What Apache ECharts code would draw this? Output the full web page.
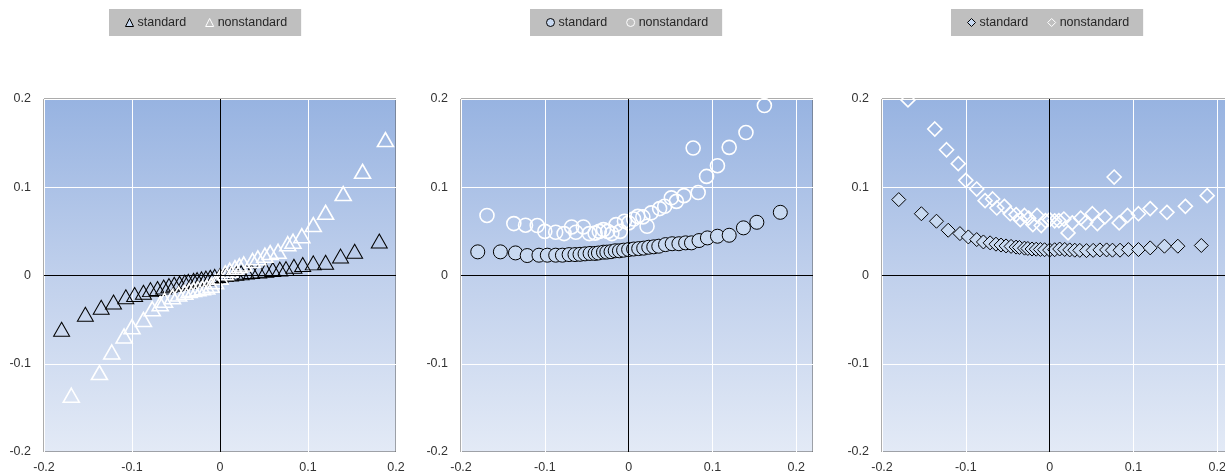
<!DOCTYPE html>
<html>
<head>
<meta charset="utf-8">
<script src="https://cdn.jsdelivr.net/npm/echarts@6/dist/echarts.min.js"></script>
<style>
html,body{margin:0;padding:0;background:#fff;overflow:hidden;}
#chart{width:1240px;height:473px;}
</style>
</head>
<body>
<div id="chart"></div>
<script>
// ---- data ----
const seriesNames = ['standard', 'nonstandard'];
const axisTicks = [-0.2, -0.1, 0, 0.1, 0.2];

// x values (returns) shared by all panels
const xStd = [-0.180, -0.153, -0.135, -0.121, -0.107, -0.097, -0.087, -0.079, -0.071, -0.064,
  -0.058, -0.052, -0.046, -0.040, -0.036, -0.030, -0.026, -0.021, -0.016, -0.011,
  -0.006, 0.000, 0.006, 0.012, 0.018, 0.024, 0.030, 0.036, 0.044, 0.052,
  0.060, 0.068, 0.075, 0.084, 0.094, 0.106, 0.120, 0.137, 0.153, 0.181];
const xNon = [-0.169, -0.137, -0.123, -0.109, -0.100, -0.087, -0.077, -0.068, -0.063, -0.054,
  -0.047, -0.040, -0.035, -0.030, -0.025, -0.020, -0.015, -0.010, -0.005, 0.000,
  0.006, 0.011, 0.017, 0.022, 0.027, 0.037, 0.043, 0.051, 0.057, 0.066,
  0.077, 0.083, 0.093, 0.106, 0.120, 0.140, 0.162, 0.188];

// panel 1 (triangles)
const p1Std = [-0.061, -0.044, -0.036, -0.030, -0.024, -0.0215, -0.019, -0.016, -0.0147, -0.013,
  -0.0115, -0.010, -0.0088, -0.0075, -0.0067, -0.0055, -0.0047, -0.0038, -0.003, -0.002,
  -0.001, 0.000, 0.001, 0.0018, 0.0025, 0.003, 0.0038, 0.0045, 0.0052, 0.006,
  0.0068, 0.0072, 0.0078, 0.0105, 0.0124, 0.0143, 0.015, 0.022, 0.0275, 0.039];
const p1Non = [-0.1357, -0.110, -0.0867, -0.0686, -0.058, -0.0498, -0.0377, -0.032, -0.028, -0.024,
  -0.021, -0.019, -0.017, -0.016, -0.015, -0.014, -0.013, -0.011, -0.007, -0.002,
  0.003, 0.006, 0.009, 0.011, 0.013, 0.017, 0.020, 0.023, 0.026, 0.0275,
  0.036, 0.0388, 0.045, 0.0577, 0.0716, 0.0928, 0.118, 0.154];

// panel 2 (circles)
const p2Std = [0.0268, 0.0268, 0.0256, 0.0226, 0.023, 0.023, 0.023, 0.023, 0.0237, 0.0237,
  0.024, 0.0245, 0.025, 0.025, 0.0255, 0.0264, 0.0265, 0.027, 0.028, 0.028,
  0.0287, 0.0294, 0.030, 0.0305, 0.031, 0.032, 0.0325, 0.0332, 0.035, 0.036,
  0.036, 0.037, 0.037, 0.0396, 0.0426, 0.0445, 0.0456, 0.054, 0.0603, 0.0716];
const p2Non = [0.068, 0.0588, 0.057, 0.0566, 0.050, 0.049, 0.0475, 0.055, 0.049, 0.055,
  0.0475, 0.048, 0.050, 0.052, 0.050, 0.0475, 0.0577, 0.050, 0.0615, 0.0596,
  0.064, 0.067, 0.0664, 0.0558, 0.071, 0.0758, 0.0784, 0.088, 0.084, 0.0905,
  0.1444, 0.094, 0.1123, 0.1244, 0.1452, 0.162, 0.1926, 0.235];

// panel 3 (diamonds)
const p3Std = [0.086, 0.070, 0.0615, 0.0513, 0.0475, 0.0437, 0.0407, 0.038, 0.037, 0.0355,
  0.0345, 0.0335, 0.033, 0.0322, 0.0318, 0.031, 0.0306, 0.030, 0.0298, 0.0295,
  0.0292, 0.0288, 0.0292, 0.030, 0.0295, 0.029, 0.0287, 0.0285, 0.0282, 0.0285,
  0.029, 0.029, 0.0287, 0.0287, 0.0294, 0.0294, 0.0313, 0.0332, 0.0332, 0.034];
const p3Non = [0.199, 0.166, 0.1425, 0.1267, 0.1078, 0.098, 0.0848, 0.0867, 0.0765, 0.0784,
  0.070, 0.069, 0.0633, 0.068, 0.065, 0.0577, 0.068, 0.0566, 0.0622, 0.0633,
  0.062, 0.0622, 0.064, 0.0483, 0.0596, 0.065, 0.060, 0.070, 0.0588, 0.0664,
  0.1116, 0.0596, 0.068, 0.070, 0.0758, 0.0716, 0.0784, 0.0905];

// ---- build ----
const FONT = '"Liberation Sans", Arial, sans-serif';
const pair = (xs, ys) => xs.map((x, i) => [x, ys[i]]);
const panels = [
  { left: 44, xMax: 0.2, symbol: 'triangle', size: [16, 14], stdFill: 'rgba(0,0,0,0)', legendLeft: 109, std: p1Std, non: p1Non },
  { left: 461, xMax: 0.22, symbol: 'circle', size: 14, stdFill: '#c8d9f1', legendLeft: 530, std: p2Std, non: p2Non },
  { left: 882, xMax: 0.22, symbol: 'diamond', size: 14, stdFill: '#c8d9f1', legendLeft: 951, std: p3Std, non: p3Non }
];
const tickFmt = v => {
  const r = Math.round(v * 10) / 10;
  if (Math.abs(r - v) > 1e-6) return '';
  return r === 0 ? '0' : String(r);
};
const bg = new echarts.graphic.LinearGradient(0, 0, 0, 1, [
  { offset: 0, color: '#97b3e1' },
  { offset: 0.5, color: '#c0d0ec' },
  { offset: 1, color: '#e3eaf6' }
]);

const option = { animation: false, grid: [], xAxis: [], yAxis: [], series: [], legend: [] };
panels.forEach((p, i) => {
  option.grid.push({ left: p.left, top: 99, width: 352, height: 353, show: true,
    outerBoundsMode: 'none', containLabel: false,
    backgroundColor: bg, borderColor: '#595959', borderWidth: 1 });
  option.xAxis.push({ type: 'value', gridIndex: i, min: -0.2, max: p.xMax, interval: 0.1,
    axisLine: { show: false }, axisTick: { show: false },
    splitLine: { show: true, lineStyle: { color: '#ffffff', width: 1 } },
    axisLabel: { formatter: tickFmt, showMaxLabel: p.xMax === 0.2, margin: 9,
      color: '#333', fontSize: 12.5, fontFamily: FONT } });
  option.yAxis.push({ type: 'value', gridIndex: i, min: axisTicks[0], max: axisTicks[axisTicks.length - 1], interval: 0.1,
    axisLine: { show: false }, axisTick: { show: false },
    splitLine: { show: true, lineStyle: { color: '#ffffff', width: 1 } },
    axisLabel: { formatter: tickFmt, margin: 13, color: '#333', fontSize: 12.5, fontFamily: FONT } });
  option.series.push({
    name: seriesNames[0], type: 'scatter', xAxisIndex: i, yAxisIndex: i,
    data: pair(xStd, p.std), symbol: p.symbol, symbolSize: p.size,
    itemStyle: { color: p.stdFill, borderColor: '#000', borderWidth: 1, opacity: 1 },
    markLine: { silent: true, symbol: 'none', label: { show: false },
      lineStyle: { color: '#000', width: 1, type: 'solid' },
      data: [{ xAxis: 0 }, { yAxis: 0 }] }
  });
  option.series.push({
    name: seriesNames[1], type: 'scatter', xAxisIndex: i, yAxisIndex: i,
    data: pair(xNon, p.non), symbol: p.symbol, symbolSize: p.size,
    itemStyle: { color: 'rgba(0,0,0,0)', borderColor: '#ffffff', borderWidth: 1.6, opacity: 1 }
  });
  option.legend.push({
    left: p.legendLeft, top: 9, orient: 'horizontal',
    backgroundColor: '#bfbfbf', borderRadius: 0,
    padding: [7, 14, 7, 16], itemWidth: 8, itemHeight: 8, itemGap: 19,
    selectedMode: false,
    textStyle: { color: '#262626', fontSize: 12.5, fontFamily: FONT, padding: [0, 0, 0, -1] },
    data: [
      { name: seriesNames[0], icon: p.symbol, itemStyle: { color: '#c8d9f1', borderColor: '#000', borderWidth: 1 } },
      { name: seriesNames[1], icon: p.symbol, itemStyle: { color: 'rgba(0,0,0,0)', borderColor: '#fff', borderWidth: 1 } }
    ]
  });
});

const chart = echarts.init(document.getElementById('chart'), null, { renderer: 'canvas' });
chart.setOption(option);
</script>
</body>
</html>
